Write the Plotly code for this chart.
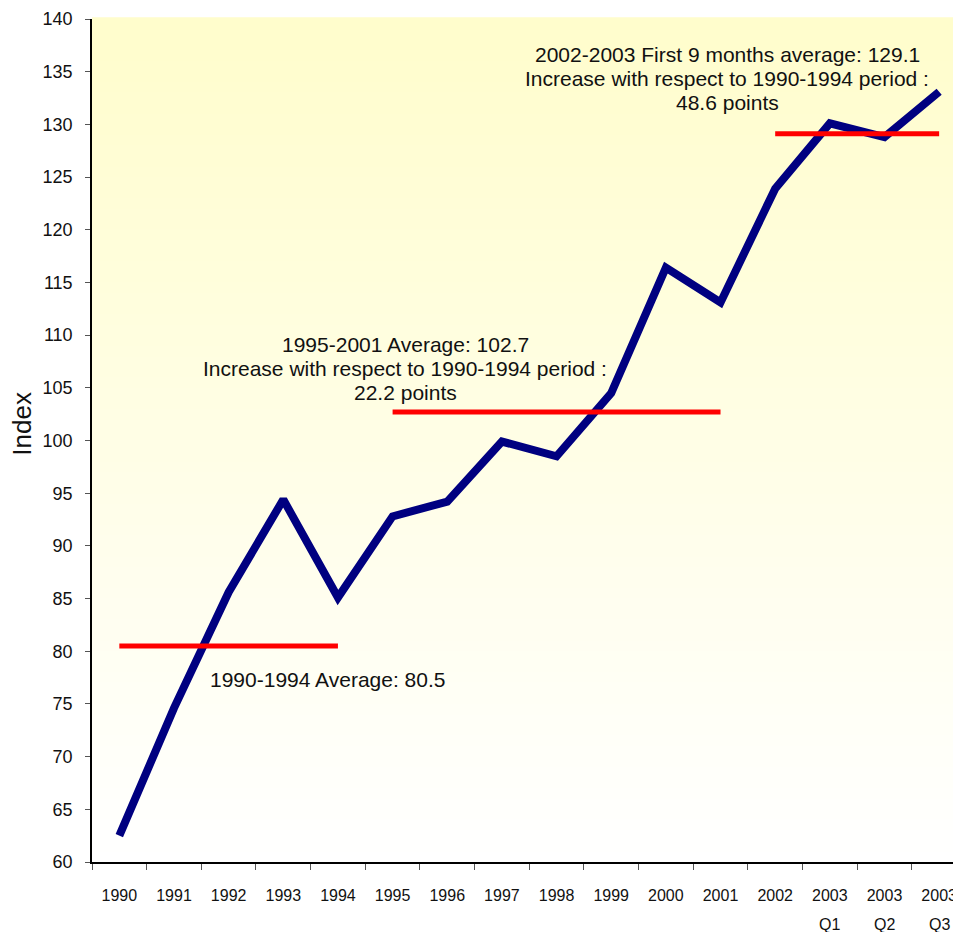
import plotly.graph_objects as go

# categories and index values
categories = ['1990', '1991', '1992', '1993', '1994', '1995', '1996', '1997',
              '1998', '1999', '2000', '2001', '2002', '2003 Q1', '2003 Q2', '2003 Q3']
tick_labels = ['1990', '1991', '1992', '1993', '1994', '1995', '1996', '1997',
               '1998', '1999', '2000', '2001', '2002', '2003', '2003', '2003']
quarter_labels = ['Q1', 'Q2', 'Q3']
index_values = [62.5, 74.6, 85.6, 94.4, 85.1, 92.8, 94.2, 99.9,
                98.5, 104.5, 116.4, 113.1, 123.9, 130.1, 128.8, 133.1]

# period averages
avg_1990_1994 = 80.5
avg_1995_2001 = 102.7
avg_2002_2003 = 129.1
period1 = categories[0:5]
period2 = categories[5:12]
period3 = categories[12:16]

FONT = 'Liberation Sans, Arial, sans-serif'

fig = go.Figure()

# soft yellow-to-white background gradient
n_bands = 80
for i in range(n_bands):
    t = i / (n_bands - 1)
    b = int(round(204 + (255 - 204) * (1 - t)))
    g = int(round(253 + (255 - 253) * (1 - t)))
    fig.add_shape(
        type='rect', xref='paper', yref='paper',
        x0=0, x1=1, y0=i / n_bands, y1=(i + 1) / n_bands + 0.002,
        fillcolor=f'rgb(255,{g},{b})', line_width=0, layer='below'
    )

fig.add_trace(go.Scatter(
    x=categories, y=index_values, mode='lines',
    line=dict(color='#000080', width=8), name='Index'
))

for period, avg in [(period1, avg_1990_1994), (period2, avg_1995_2001), (period3, avg_2002_2003)]:
    fig.add_trace(go.Scatter(
        x=period, y=[avg] * len(period), mode='lines',
        line=dict(color='#FF0000', width=5), name='Average'
    ))

text_font = dict(family=FONT, size=21, color='#111111')


def add_text_block(x, y, lines):
    # one annotation per line to keep the tighter line spacing of the original
    n = len(lines)
    for k, line in enumerate(lines):
        fig.add_annotation(
            x=x, y=y, xref='x', yref='y', yshift=((n - 1) / 2 - k) * 24,
            text=line, showarrow=False, font=text_font
        )


add_text_block(3.8, 77.3, [f'1990-1994 Average: {avg_1990_1994}'])
add_text_block(5.23, 106.8, [
    f'1995-2001 Average: {avg_1995_2001}',
    'Increase with respect to 1990-1994 period :',
    f'{round(avg_1995_2001 - avg_1990_1994, 1)} points',
])
add_text_block(11.12, 134.4, [
    f'2002-2003 First 9 months average: {avg_2002_2003}',
    'Increase with respect to 1990-1994 period :',
    f'{round(avg_2002_2003 - avg_1990_1994, 1)} points',
])

# quarter labels under the 2003 ticks
for cat, q in zip(categories[13:], quarter_labels):
    fig.add_annotation(
        x=cat, y=0, xref='x', yref='paper', yanchor='middle', yshift=-62,
        text=q, showarrow=False,
        font=dict(family=FONT, size=16, color='#111111')
    )

# y axis title
fig.add_annotation(
    x=0, y=0.52, xref='paper', yref='paper', xanchor='center', xshift=-70,
    text='Index', textangle=-90, showarrow=False,
    font=dict(family=FONT, size=26, color='#111111')
)

# the page body adds an 8px offset, margins are set to compensate
fig.update_layout(
    width=953, height=924,
    margin=dict(l=84, r=0, t=11, b=70),
    plot_bgcolor='white', paper_bgcolor='white',
    showlegend=False,
    xaxis=dict(
        type='category', categoryorder='array', categoryarray=categories,
        tickmode='array', tickvals=categories, ticktext=tick_labels,
        range=[-0.5, 15.4], tickson='boundaries', automargin=False,
        ticks='outside', ticklen=6, tickcolor='#555555',
        showline=True, linecolor='black', linewidth=1.5,
        showgrid=False, zeroline=False,
        tickfont=dict(family=FONT, size=16, color='#111111'),
        ticklabelstandoff=18
    ),
    yaxis=dict(
        range=[60, 140], dtick=5, automargin=False,
        ticks='outside', ticklen=5, tickcolor='#555555',
        showline=True, linecolor='black', linewidth=1.5,
        showgrid=False, zeroline=False,
        tickfont=dict(family=FONT, size=18, color='#111111'),
        ticklabelstandoff=9, ticklabeloverflow='allow'
    )
)

fig.write_html("out.html")
